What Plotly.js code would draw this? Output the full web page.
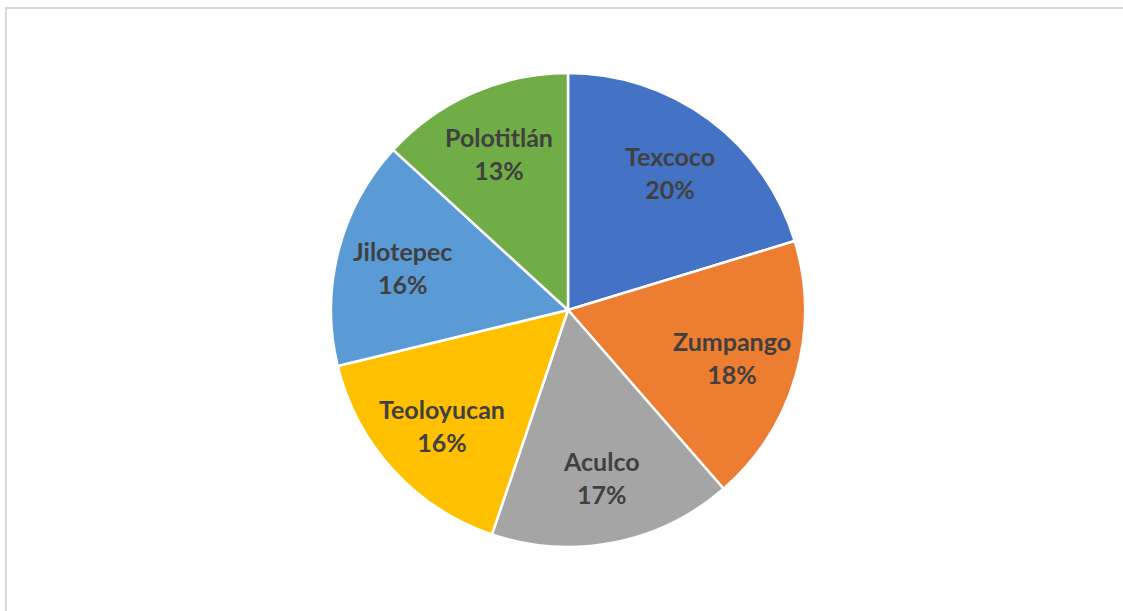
<!DOCTYPE html>
<html>
<head>
<meta charset="utf-8">
<script src="https://cdn.plot.ly/plotly-3.0.1.min.js"></script>
<style>
  html, body { margin: 0; padding: 0; background: #ffffff; }
  #frame { position: absolute; left: 5px; top: 7px; width: 1130px; height: 620px;
           border-left: 2px solid #d9d9d9; border-top: 2px solid #d9d9d9; box-sizing: border-box; }
  #chart { position: absolute; left: 0; top: 0; width: 1123px; height: 611px; }
</style>
</head>
<body>
<div id="frame"></div>
<div id="chart"></div>
<script>
const categories = ['Texcoco', 'Zumpango', 'Aculco', 'Teoloyucan', 'Jilotepec', 'Polotitlán'];
const values = [20.3, 18.3, 16.6, 16.0, 15.6, 13.2];
const colors = ['#4472C4', '#ED7D31', '#A5A5A5', '#FFC000', '#5B9BD5', '#70AD47'];

const W = 1123, H = 611;
const cx = 568, cy = 310, r = 237;
const labelRadius = 0.72;

const trace = {
  type: 'pie',
  labels: categories,
  values: values,
  sort: false,
  direction: 'clockwise',
  rotation: 0,
  marker: { colors: colors, line: { color: '#ffffff', width: 2.5 } },
  textinfo: 'none',
  hoverinfo: 'label+percent',
  showlegend: false,
  domain: { x: [(cx - r) / W, (cx + r) / W], y: [(H - cy - r) / H, (H - cy + r) / H] }
};

// Data labels placed at each slice's mid-angle, computed from the values
const total = values.reduce((a, b) => a + b, 0);
let cum = 0;
const annotations = categories.map((cat, i) => {
  const frac = values[i] / total;
  const mid = (cum + frac / 2) * 2 * Math.PI; // clockwise from 12 o'clock
  cum += frac;
  const px = cx + labelRadius * r * Math.sin(mid);
  const py = cy - labelRadius * r * Math.cos(mid);
  return {
    xref: 'paper', yref: 'paper',
    x: px / W, y: 1 - py / H,
    xanchor: 'center', yanchor: 'middle',
    showarrow: false,
    text: cat + '<br>' + Math.round(frac * 100) + '%',
    font: { family: 'Lato, "Open Sans", sans-serif', size: 25, color: '#404040', weight: 'bold' }
  };
});

const layout = {
  width: W, height: H,
  margin: { l: 0, r: 0, t: 0, b: 0 },
  paper_bgcolor: 'rgba(0,0,0,0)',
  plot_bgcolor: 'rgba(0,0,0,0)',
  showlegend: false,
  annotations: annotations
};

Plotly.newPlot('chart', [trace], layout, { displayModeBar: false, staticPlot: true });
</script>
</body>
</html>
